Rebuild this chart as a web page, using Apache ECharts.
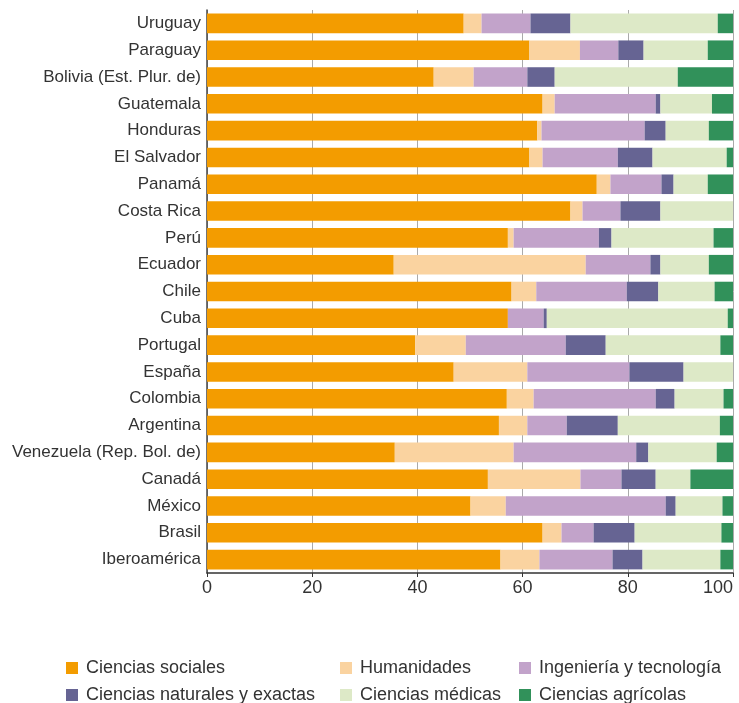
<!DOCTYPE html>
<html>
<head>
<meta charset="utf-8">
<script src="https://cdn.jsdelivr.net/npm/echarts@6/dist/echarts.min.js"></script>
<style>
  html, body { margin: 0; padding: 0; background: #fff; }
  #chart { width: 739px; height: 703px; }
</style>
</head>
<body>
<div id="chart"></div>
<script>
// countries, top to bottom as in the picture
var paises = ['Uruguay', 'Paraguay', 'Bolivia (Est. Plur. de)', 'Guatemala', 'Honduras', 'El Salvador',
  'Panamá', 'Costa Rica', 'Perú', 'Ecuador', 'Chile', 'Cuba', 'Portugal', 'España', 'Colombia',
  'Argentina', 'Venezuela (Rep. Bol. de)', 'Canadá', 'México', 'Brasil', 'Iberoamérica'];

var sociales    = [48.8, 61.3, 43.1, 63.8, 62.8, 61.3, 74.1, 69.1, 57.2, 35.5, 57.9, 57.2, 39.6, 46.9, 57.0, 55.5, 35.7, 53.4, 50.1, 63.8, 55.8];
var humanidades = [3.4, 9.6, 7.6, 2.3, 0.8, 2.5, 2.6, 2.3, 1.1, 36.5, 4.7, 0, 9.6, 14.0, 5.1, 5.4, 22.6, 17.6, 6.7, 3.6, 7.4];
var ingenieria  = [9.3, 7.3, 10.2, 19.2, 19.6, 14.3, 9.7, 7.2, 16.2, 12.3, 17.2, 6.8, 19.0, 19.4, 23.2, 7.5, 23.3, 7.8, 30.4, 6.1, 13.9];
var naturales   = [7.6, 4.8, 5.2, 0.9, 4.0, 6.6, 2.3, 7.6, 2.4, 1.9, 6.0, 0.6, 7.6, 10.3, 3.6, 9.7, 2.3, 6.5, 1.9, 7.8, 5.7];
var medicas     = [28.0, 12.2, 23.4, 9.8, 8.2, 14.1, 6.5, 13.8, 19.4, 9.2, 10.7, 34.4, 21.8, 9.4, 9.3, 19.4, 13.0, 6.6, 8.9, 16.5, 14.8];
var agricolas   = [2.9, 4.8, 10.5, 4.0, 4.6, 1.2, 4.8, 0, 3.7, 4.6, 3.5, 1.0, 2.4, 0, 1.8, 2.5, 3.1, 8.1, 2.0, 2.2, 2.4];

var nombres = ['Ciencias sociales', 'Humanidades', 'Ingeniería y tecnología',
  'Ciencias naturales y exactas', 'Ciencias médicas', 'Ciencias agrícolas'];
var valores = [sociales, humanidades, ingenieria, naturales, medicas, agricolas];
var colores = ['#f39c00', '#fad3a0', '#c2a3ca', '#666493', '#dde9c7', '#31915a'];

var fuente = 'Liberation Sans, Arial, sans-serif';

var myChart = echarts.init(document.getElementById('chart'));

// one legend per item so the columns line up like the picture
var colX = [61, 335, 514];
var filaY = [654, 681];
var leyendas = nombres.map(function (n, i) {
  return {
    left: colX[i % 3],
    top: filaY[Math.floor(i / 3)],
    itemWidth: 12,
    itemHeight: 12,
    icon: 'rect',
    selectedMode: false,
    data: [n],
    textStyle: { fontFamily: fuente, fontSize: 18, color: '#333', padding: [0, 0, 0, 3] }
  };
});

var option = {
  animation: false,
  color: colores,
  grid: { left: 207, right: 6, top: 10, bottom: 130, outerBoundsMode: 'none' },
  legend: leyendas,
  xAxis: {
    type: 'value',
    min: 0,
    max: 100,
    interval: 20,
    axisLine: { show: true, lineStyle: { color: '#333', width: 1.5 } },
    axisTick: { show: true, length: 4, lineStyle: { color: '#333' } },
    axisLabel: { fontFamily: fuente, fontSize: 18, color: '#333', margin: 6, alignMaxLabel: 'right' },
    splitLine: { show: true, lineStyle: { color: '#aaa', width: 1 } }
  },
  yAxis: {
    type: 'category',
    inverse: true,
    data: paises,
    axisLine: { show: true, lineStyle: { color: '#444', width: 1.5 } },
    axisTick: { show: false },
    axisLabel: { fontFamily: fuente, fontSize: 17, color: '#333', margin: 6 }
  },
  series: nombres.map(function (n, i) {
    return {
      name: n,
      type: 'bar',
      stack: 'total',
      barWidth: '73%',
      data: valores[i]
    };
  })
};
myChart.setOption(option);
</script>
</body>
</html>
